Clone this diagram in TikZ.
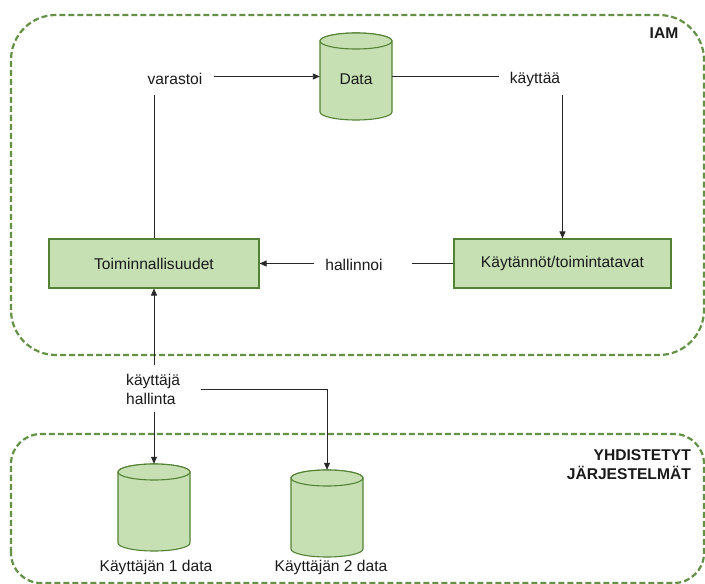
\documentclass[tikz,border=0pt]{standalone}
\usepackage{fontspec}
\setmainfont{Liberation Sans}
\usetikzlibrary{arrows.meta}

\definecolor{boxfill}{RGB}{198,224,180}
\definecolor{boxline}{RGB}{84,130,53}
\definecolor{zoneline}{RGB}{100,145,70}
\definecolor{ink}{RGB}{26,26,26}
\definecolor{wire}{RGB}{40,40,40}

% database drum: name, centre x, top y, text
\newcommand{\drum}[4]{%
  \path[drumbody] ({#2-36},{#3-8}) -- ({#2-36},{#3-79})
    arc[start angle=180,end angle=360,x radius=36pt,y radius=8pt]
    -- ({#2+36},{#3-8})
    arc[start angle=0,end angle=180,x radius=36pt,y radius=8pt] -- cycle;
  \path[drumbody] ({#2},{#3-8}) ellipse[x radius=36pt,y radius=8pt];
  \node[drumnode, label={[inner sep=0pt, yshift=-3pt]center:#4}] (#1) at ({#2},{#3-43.5}) {};
}

\begin{document}
\begin{tikzpicture}[x=1pt,y=1pt,
  font=\fontsize{15.6}{19}\selectfont, text=ink,
  zone/.style={draw=zoneline, line width=2.2pt, dash pattern=on 6pt off 3pt},
  procbox/.style={draw=boxline, fill=boxfill, line width=1.1pt,
    minimum width=#1, minimum height=49pt, inner sep=0pt},
  drumbody/.style={draw=boxline, fill=boxfill, line width=1.1pt},
  drumnode/.style={minimum width=72pt, minimum height=87pt, inner sep=0pt},
  verb/.style={inner sep=0pt},
  wirestyle/.style={draw=wire, line width=0.9pt},
  arr/.style={wirestyle, -{Triangle[length=7pt,width=6pt]}},
  zonetitle/.style={font=\fontsize{15.6}{19}\selectfont\bfseries, align=right, inner sep=0pt}
]
\useasboundingbox (0,0) rectangle (705,584);

% dashed zones
\draw[zone, rounded corners=45pt] (11,229) rectangle (704,569);
\draw[zone, rounded corners=30pt] (11,1) rectangle (704,150);

% components
\node[procbox=210pt] (toim) at (154,320.5) {Toiminnallisuudet};
\node[procbox=217pt] (kay) at (562.5,320.5) {Käytännöt/toimintatavat};
\drum{data}{356}{551}{Data}
\drum{cylA}{154}{120}{}
\drum{cylB}{327}{114}{}

% relation labels
\node[verb] (varastoi) at (175,505) {varastoi};
\node[verb] (kayttaa) at (535,505) {käyttää};
\node[verb] (hallinnoi) at (354,319) {hallinnoi};
\node[verb, align=left, anchor=west] (user) at (126,195) {käyttäjä\\hallinta};

% drum captions
\node[verb] (capA) at (156,17) {Käyttäjän 1 data};
\node[verb] (capB) at (331,17) {Käyttäjän 2 data};

% zone titles
\node[zonetitle] (iam) at (664,551) {IAM};
\node[zonetitle, anchor=east] (yj) at (691,119) {YHDISTETYT\\JÄRJESTELMÄT};

% connectors
\draw[wirestyle] ([yshift=-10pt]varastoi.south -| toim.north) -- (toim.north);
\draw[arr] ([xshift=11pt]varastoi.east |- data.west) -- (data.west);
\draw[wirestyle] (data.east) -- ([xshift=-11pt]kayttaa.west |- data.east);
\draw[arr] ([yshift=-9pt]kayttaa.south -| kay.north) -- (kay.north);
\draw[wirestyle] (kay.west) -- ([xshift=29pt]hallinnoi.east |- kay.west);
\draw[arr] ([xshift=-11pt]hallinnoi.west |- toim.east) -- (toim.east);
\draw[arr] ([yshift=9pt]user.north -| toim.south) -- (toim.south);
\draw[arr] ([yshift=-8pt]user.south -| cylA.north) -- (cylA.north);
\draw[arr] ([xshift=21pt]user.east) -| (cylB.north);
\end{tikzpicture}
\end{document}
